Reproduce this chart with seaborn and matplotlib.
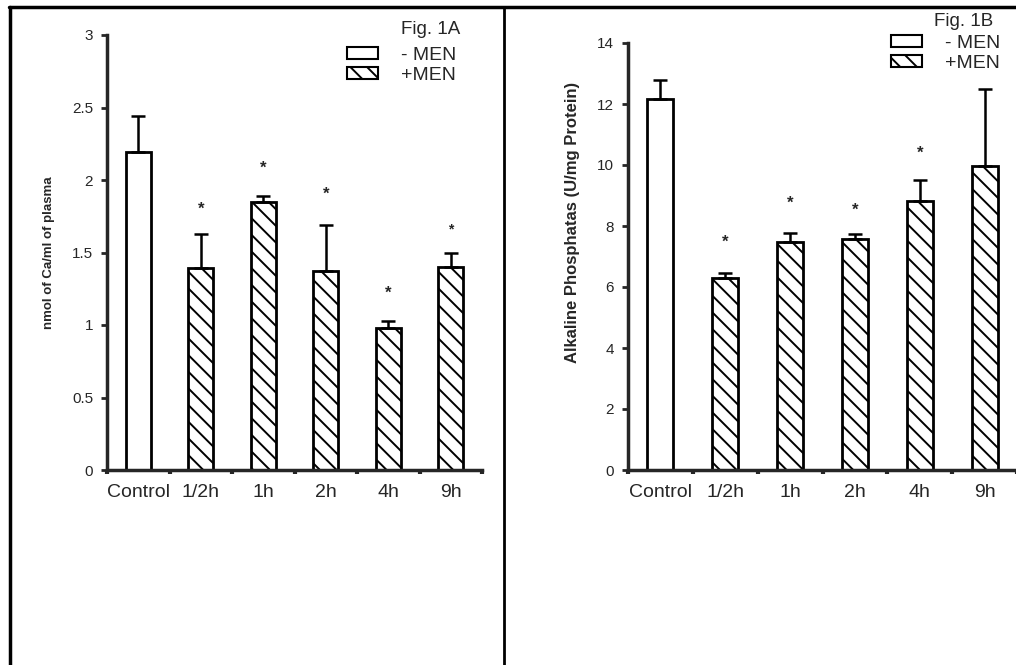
import matplotlib
matplotlib.use('Agg')
import matplotlib.pyplot as plt
import seaborn as sns
import pandas as pd
from matplotlib.patches import Patch
from matplotlib.lines import Line2D

# data
times = ['Control', '1/2h', '1h', '2h', '4h', '9h']
ca_mean = [2.19, 1.39, 1.85, 1.37, 0.98, 1.40]
ca_err = [0.25, 0.24, 0.04, 0.32, 0.05, 0.10]
ca_star = [None, 1.80, 2.08, 1.90, 1.22, 1.66]
alp_mean = [12.15, 6.30, 7.47, 7.56, 8.83, 9.98]
alp_err = [0.63, 0.16, 0.29, 0.19, 0.67, 2.52]
alp_star = [None, 7.48, 8.74, 8.50, 10.38, None]
ca_ticks = [0, 0.5, 1, 1.5, 2, 2.5, 3]
ca_ticklabels = ['0', '0.5', '1', '1.5', '2', '2.5', '3']
alp_ticks = [0, 2, 4, 6, 8, 10, 12, 14]

sns.set_style('ticks')
plt.rcParams['font.family'] = ['Liberation Sans', 'DejaVu Sans']
plt.rcParams['hatch.linewidth'] = 1.4

W, H = 1016, 665
fig = plt.figure(figsize=(W / 100, H / 100), dpi=100)
HATCH = '\\\\'


def px_axes(x0, y0, x1, y1):
    # pixel box (top-left origin) -> figure axes
    return fig.add_axes([x0 / W, 1 - y1 / H, (x1 - x0) / W, (y1 - y0) / H])


def panel(ax, means, errs, stars, ylim, yticks, yticklabels, ylabel, lab_xy, lab_size):
    df = pd.DataFrame({'time': times, 'value': means})
    sns.barplot(data=df, x='time', y='value', color='white', edgecolor='black',
                linewidth=2, width=0.4, saturation=1, errorbar=None, ax=ax)
    for i, bar in enumerate(ax.patches):
        bar.set_facecolor('white')
        if i > 0:
            bar.set_hatch(HATCH)
    ax.errorbar(range(len(times)), means, yerr=[[0] * len(errs), errs], fmt='none',
                ecolor='black', elinewidth=1.8, capsize=5, capthick=1.8, zorder=1)
    for i, s in enumerate(stars):
        if s is not None:
            size = 12 if not (ylim[1] == 3 and i == 5) else 10
            ax.text(i, s, '*', ha='center', va='center', fontsize=size, fontweight='bold')
    ax.set_xlim(-0.5, 5.5)
    ax.set_ylim(*ylim)
    ax.set_yticks(yticks)
    ax.set_yticklabels(yticklabels, fontsize=11)
    ax.set_xticks(range(len(times)))
    ax.set_xticklabels(times, fontsize=14)
    ax.set_xticks([i - 0.5 for i in range(7)], minor=True)
    ax.tick_params(axis='x', which='major', length=0, pad=10)
    ax.tick_params(axis='x', which='minor', length=3, width=3, direction='out')
    ax.tick_params(axis='y', length=4, width=2, direction='out', pad=6)
    ax.set_xlabel('')
    ax.set_ylabel(ylabel, fontsize=lab_size, fontweight='bold')
    ax.yaxis.set_label_coords(*lab_xy)
    for side in ['top', 'right']:
        ax.spines[side].set_visible(False)
    for side in ['left', 'bottom']:
        ax.spines[side].set_linewidth(2.5)
    ax.set_facecolor('none')


ax1 = px_axes(107, 35, 482, 470)
panel(ax1, ca_mean, ca_err, ca_star, (0, 3), ca_ticks, ca_ticklabels,
      'nmol of Ca/ml of plasma', (-0.139, 0.5), 9.5)

ax2 = px_axes(628, 43, 1017, 470)
panel(ax2, alp_mean, alp_err, alp_star, (0, 14), alp_ticks, [str(t) for t in alp_ticks],
      'Alkaline Phosphatas (U/mg Protein)', (-0.124, 0.58), 12)

handles = [Patch(facecolor='white', edgecolor='black', linewidth=1.5, label='- MEN'),
           Patch(facecolor='white', edgecolor='black', linewidth=1.5, hatch=HATCH, label='+MEN')]
for (lx, ly) in [(347, 47), (891, 35)]:
    fig.legend(handles=handles, loc='upper left', bbox_to_anchor=(lx / W, 1 - ly / H),
               frameon=False, fontsize=14, handlelength=1.6, handleheight=0.55,
               handletextpad=1.2, labelspacing=0.15, borderpad=0, borderaxespad=0)

fig.text(401 / W, 1 - 30 / H, 'Fig. 1A', fontsize=13.5, va='center', ha='left')
fig.text(934 / W, 1 - 22 / H, 'Fig. 1B', fontsize=13.5, va='center', ha='left')

# panel frames
fig.add_artist(Line2D([9 / W, 1], [1 - 7 / H, 1 - 7 / H], color='black', lw=2.5))
fig.add_artist(Line2D([10 / W, 10 / W], [0, 1 - 7 / H], color='black', lw=2.5))
fig.add_artist(Line2D([504 / W, 504 / W], [0, 1 - 7 / H], color='black', lw=2))

fig.savefig('out.png', dpi=100)
